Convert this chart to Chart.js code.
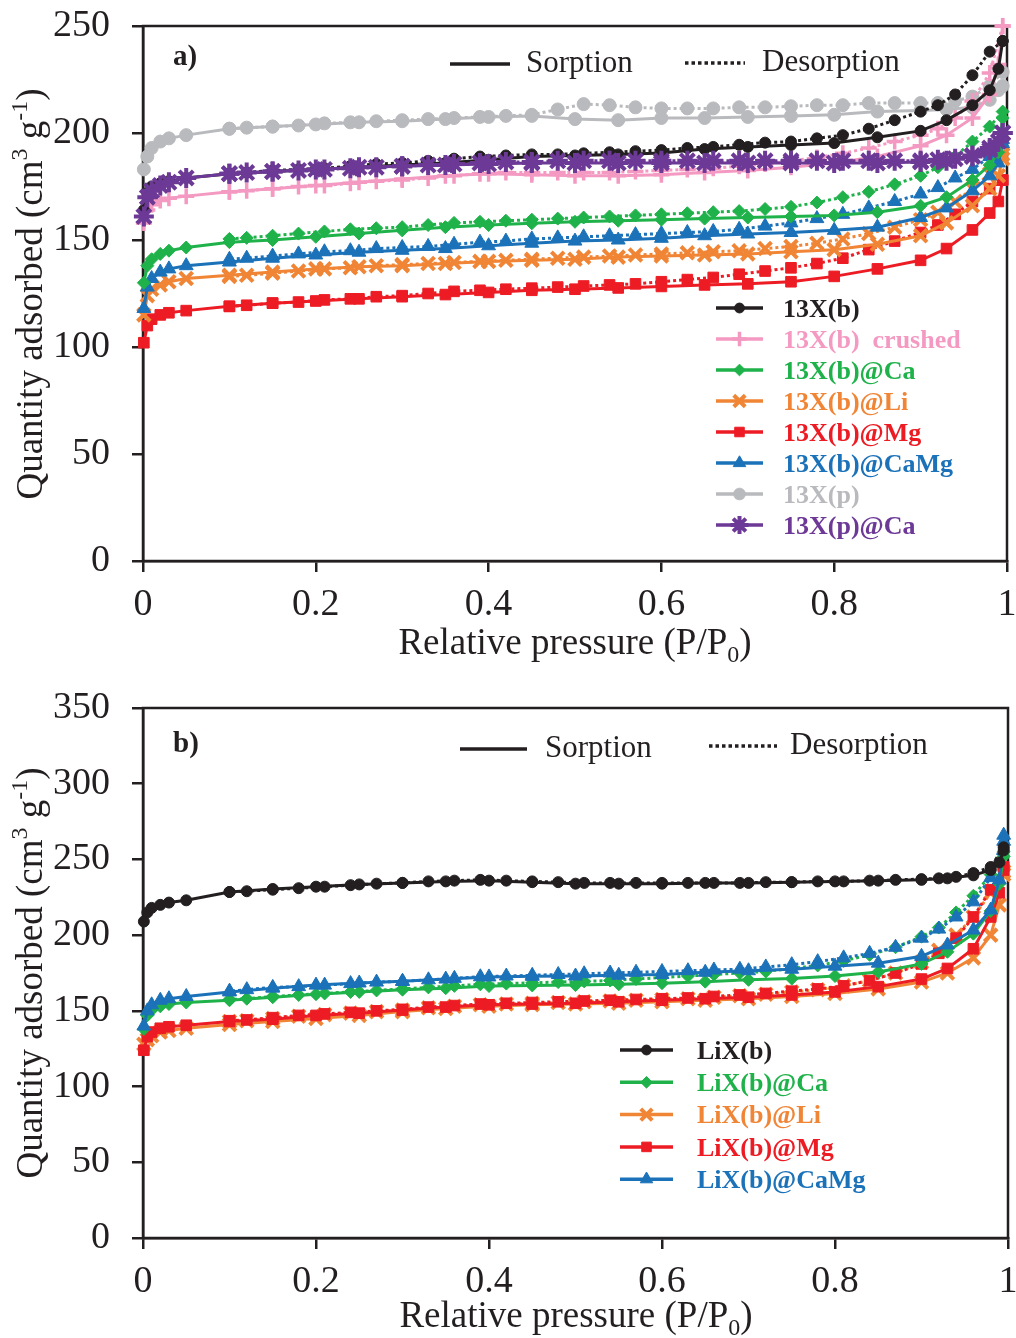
<!DOCTYPE html>
<html>
<head>
<meta charset="utf-8">
<script src="https://cdn.jsdelivr.net/npm/chart.js@4.4.1/dist/chart.umd.min.js"></script>
<style>
  body { margin: 0; background: #fff; }
  canvas { position: absolute; left: 0; }
</style>
</head>
<body>
<canvas id="chart-a" width="1016" height="669" style="top:0"></canvas>
<canvas id="chart-b" width="1016" height="669" style="top:669px"></canvas>
<script>
// relative pressure (P/P0) of the sorption and desorption branches
const sorpP = [0.001, 0.005, 0.01, 0.02, 0.03, 0.05, 0.1, 0.15, 0.2, 0.25, 0.3, 0.35, 0.4, 0.45, 0.5,
  0.55, 0.6, 0.65, 0.7, 0.75, 0.8, 0.85, 0.9, 0.93, 0.96, 0.98, 0.99, 0.995];
const desorpP = [0.995, 0.98, 0.96, 0.94, 0.92, 0.9, 0.87, 0.84, 0.81, 0.78, 0.75, 0.72, 0.69, 0.66, 0.63,
  0.6, 0.57, 0.54, 0.51, 0.48, 0.45, 0.42, 0.39, 0.36, 0.33, 0.3, 0.27, 0.24, 0.21, 0.18, 0.15, 0.12, 0.1];

const xTicks = [0, 0.2, 0.4, 0.6, 0.8, 1];
const xTickLabels = ['0', '0.2', '0.4', '0.6', '0.8', '1'];
const yTicksA = [0, 50, 100, 150, 200, 250];
const yTicksB = [0, 50, 100, 150, 200, 250, 300, 350];

// a) 13X samples, quantity adsorbed (cm3/g)
const sorp13Xb = [164, 172, 175, 176.5, 177.5, 179, 181, 182, 183, 184, 185, 186, 187.5, 189, 189.5,
  190, 190.6, 192.5, 193.5, 194.4, 195.3, 198, 201, 206, 213, 220, 230, 243];
const desorp13Xb = [243, 238, 227, 218, 213, 210, 206, 202, 199, 197.5, 196, 195.5, 194.5, 193.5, 193,
  192, 191.5, 191, 190.5, 190, 190, 189.5, 189, 188, 187, 186, 185.5, 184.5, 183.5, 183, 182.5, 181.5, 181];
const sorp13XbCrushed = [158, 164, 166.5, 168.5, 169.5, 170.5, 172.5, 174, 175.5, 177, 178.5, 180, 181, 180.5, 180,
  180, 180.5, 181.5, 182.5, 184, 186, 189, 194, 199, 207, 218, 232, 250];
const desorp13XbCrushed = [250, 228, 215, 207, 202, 199, 196, 193, 190.5, 188.5, 187, 185.5, 184.5, 183.5, 183,
  182.5, 182, 181.5, 181.5, 181.5, 181.5, 181.5, 181, 180, 179, 178, 177.5, 176.5, 175.5, 175, 174, 173, 172.5];
const sorp13XbCa = [130, 138, 141, 143.5, 145, 146.5, 149, 150, 151.5, 153, 154.5, 156, 157, 157.8, 158.5,
  159, 159.5, 160, 160.5, 161, 161.5, 163, 166, 170, 178, 185, 191, 207];
const desorp13XbCa = [210, 203, 196, 189, 184, 180, 176, 172.5, 170, 167.5, 165.5, 164.5, 163.5, 163, 162.5,
  162, 161.5, 161, 160.5, 160, 159.5, 159, 158.5, 158, 157, 156, 155.5, 155, 154, 153, 152, 151, 150.5];
const sorp13XbLi = [115, 124, 127, 129, 130.5, 132, 133.5, 135, 136.5, 137.5, 138, 139, 140, 140.5, 141,
  142, 142.5, 143, 143.5, 144.5, 145.5, 148, 152, 158, 166, 174, 180, 188];
const desorp13XbLi = [190, 181, 174, 168, 163, 159.5, 156, 153, 150.5, 148.5, 147, 146, 145, 144.5, 144,
  143.5, 143, 142.5, 142, 141.5, 141, 140.5, 140, 139.5, 139, 138.5, 138, 137, 136.5, 135.5, 134.5, 133.5, 133];
const sorp13XbMg = [102, 110, 113, 115, 116, 117, 119, 120.5, 121.5, 122.5, 123.5, 124.5, 125.5, 126.5, 127,
  127.6, 128.3, 129, 129.5, 130.5, 133, 136.5, 140.5, 146, 154.7, 162.6, 168, 178];
const desorp13XbMg = [178, 174, 168, 162, 157, 153.5, 149.5, 145.5, 141.5, 139, 137, 135.5, 134, 132.5, 131.5,
  130.5, 129.5, 129, 128.5, 128, 127.5, 127, 126.5, 126, 125, 124, 123.5, 122.5, 122, 121, 120.5, 119.5, 119];
const sorp13XbCaMg = [118, 128, 132, 135, 136.5, 138, 139.7, 141.5, 143, 144.3, 145.2, 146, 147.3, 148.5, 149.5,
  150, 150.8, 152, 152.8, 153.5, 154.5, 156, 160.5, 165, 173, 180, 186, 195];
const desorp13XbCaMg = [197, 189, 183, 179, 174.5, 171.5, 168, 165, 162, 160, 158, 156.5, 155, 154, 153.5,
  153, 152.5, 152, 151.5, 151, 150.5, 149.5, 149, 148, 147, 146.5, 146, 145, 144.5, 143.5, 142.5, 141.5, 141];
const sorp13Xp = [183, 189, 193, 196, 197.5, 199, 202, 203, 204, 205, 205.5, 206.5, 207.5, 208, 206.5,
  206, 207, 207, 207.5, 208, 208.5, 210, 210.5, 211, 212, 215.5, 220, 222];
const desorp13Xp = [228.5, 222, 217, 215, 214, 214, 214, 214, 213, 213, 212.5, 212, 212, 211.5, 211.5,
  211.5, 212, 213, 213.5, 211, 208.5, 208, 207.5, 207, 206.5, 206, 205.5, 205, 204.5, 203.5, 203, 202.5, 202];
const sorp13XpCa = [161, 170, 173, 175.5, 177, 179, 181, 182, 183, 184, 184.5, 185, 185.5, 186, 186,
  186, 186, 186, 186, 186, 186, 186, 186.5, 187, 189, 192, 196, 200];
const desorp13XpCa = [200, 193, 189.5, 188, 187.5, 187, 187, 187, 187, 187, 187, 187, 187, 187, 187,
  187, 187, 187, 187, 187, 186.5, 186.5, 186, 185.5, 185, 184.5, 184, 183.5, 183, 182.5, 182, 181.5, 181];

// b) LiX samples
const sorpLiXb = [209, 215, 218, 220, 221.5, 223, 228.5, 230.5, 232, 233.5, 234.5, 235.5, 236, 235, 234,
  234, 234, 234.5, 234.5, 235, 235.5, 236, 236.5, 237.5, 239.5, 243, 248, 256];
const desorpLiXb = [258, 245, 241, 238.5, 237.5, 237, 236.5, 236, 235.5, 235.5, 235, 235, 234.5, 234.5, 234.5,
  234.5, 234.5, 234.5, 234.5, 235, 235.5, 236, 236.5, 236, 235.5, 234.5, 234, 233, 232, 231, 230, 229, 228.5];
const sorpLiXbCa = [138, 147, 150.5, 153, 154.5, 155.5, 157, 159, 161, 162.5, 164, 165, 166.4, 166.8, 167,
  167.5, 168.3, 169.3, 170.5, 171.3, 173, 175.7, 181, 189, 201, 216, 234, 252];
const desorpLiXbCa = [255, 240, 226, 215, 205, 199, 192, 187, 183, 180, 178, 176, 175, 174, 173,
  172, 171, 170, 169.5, 169, 168.5, 168, 167.5, 166.5, 165.5, 164.5, 163.5, 162.5, 161.5, 160.5, 159.5, 158, 157.5];
const sorpLiXbLi = [128, 131, 133.5, 136, 137, 138.5, 141, 143, 145, 147, 149.5, 151.5, 153, 154, 154.5,
  155, 156, 157, 158, 159.5, 161.5, 164.5, 169, 175, 185, 200, 220, 240];
const desorpLiXbLi = [242, 228, 212, 200, 190, 182, 175, 170, 166.5, 164, 162.5, 161, 160, 159, 158,
  157.5, 157, 156.5, 156, 155.5, 155, 154.5, 154, 153, 152, 150.5, 149.5, 148.5, 147.5, 146.5, 145, 143.5, 143];
const sorpLiXbMg = [124, 133, 136, 138.5, 139.5, 140.5, 143, 144.5, 147, 148.5, 150.5, 152.5, 154, 154.5, 155,
  156, 157, 158, 159, 160.5, 162.5, 166, 171, 178, 191, 212, 228, 243];
const desorpLiXbMg = [245, 230, 212, 198, 188, 181, 175, 170, 166.5, 164.5, 163, 161.5, 160.5, 159.5, 158.5,
  158, 157.5, 157, 156.5, 156, 155.5, 155, 154.5, 153.5, 152.5, 151, 150, 149, 148, 147, 145.5, 144, 143.5];
const sorpLiXbCaMg = [140, 150, 154, 157, 158, 159.5, 162.5, 165, 167, 168.4, 169.5, 171, 172.4, 172.8, 173,
  173.5, 174, 175.5, 176.5, 177.5, 179.5, 181.5, 186, 193.5, 203.4, 216.6, 236.5, 262];
const desorpLiXbCaMg = [266, 238, 222, 212, 204, 198, 192, 188, 185, 182.5, 180.5, 179, 177.5, 177, 176.5,
  176, 175.5, 175, 174.5, 174, 173.5, 173, 172.5, 171.5, 170.5, 169.5, 169, 168, 167, 166, 165.5, 164, 163];

const INK = '#231f20';
const SERIF = '"Liberation Serif", "Times New Roman", serif';

const looks = {
  black:  { color: '#231f20', pointStyle: 'circle',   radius: 5.5, pointBorder: 1 },
  pink:   { color: '#f49ac2', pointStyle: 'cross',    radius: 8, pointBorder: 3.5 },
  green:  { color: '#1fb24a', pointStyle: 'rectRot',  radius: 6.5, pointBorder: 1 },
  orange: { color: '#f08536', pointStyle: 'crossRot', radius: 9, pointBorder: 4 },
  red:    { color: '#ed1c24', pointStyle: 'rect',     radius: 7.5, pointBorder: 1 },
  blue:   { color: '#1b72b9', pointStyle: 'triangle', radius: 8, pointBorder: 1 },
  gray:   { color: '#b9babd', pointStyle: 'circle',   radius: 6.5, pointBorder: 1 },
  purple: { color: '#6d3996', pointStyle: 'star',     radius: 10, pointBorder: 4 }
};

// legend order; z = drawing order (lower is on top)
const seriesA = [
  { label: '13X(b)', look: 'black', z: 2, sorp: sorp13Xb, desorp: desorp13Xb },
  { label: '13X(b)  crushed', look: 'pink', z: 3, sorp: sorp13XbCrushed, desorp: desorp13XbCrushed },
  { label: '13X(b)@Ca', look: 'green', z: 5, sorp: sorp13XbCa, desorp: desorp13XbCa },
  { label: '13X(b)@Li', look: 'orange', z: 7, sorp: sorp13XbLi, desorp: desorp13XbLi },
  { label: '13X(b)@Mg', look: 'red', z: 8, sorp: sorp13XbMg, desorp: desorp13XbMg },
  { label: '13X(b)@CaMg', look: 'blue', z: 6, sorp: sorp13XbCaMg, desorp: desorp13XbCaMg },
  { label: '13X(p)', look: 'gray', z: 4, sorp: sorp13Xp, desorp: desorp13Xp },
  { label: '13X(p)@Ca', look: 'purple', z: 1, sorp: sorp13XpCa, desorp: desorp13XpCa }
];
const seriesB = [
  { label: 'LiX(b)', look: 'black', z: 1, sorp: sorpLiXb, desorp: desorpLiXb },
  { label: 'LiX(b)@Ca', look: 'green', z: 3, sorp: sorpLiXbCa, desorp: desorpLiXbCa },
  { label: 'LiX(b)@Li', look: 'orange', z: 5, sorp: sorpLiXbLi, desorp: desorpLiXbLi },
  { label: 'LiX(b)@Mg', look: 'red', z: 4, sorp: sorpLiXbMg, desorp: desorpLiXbMg },
  { label: 'LiX(b)@CaMg', look: 'blue', z: 2, sorp: sorpLiXbCaMg, desorp: desorpLiXbCaMg }
];

function branch(xs, ys, lk, dash, z) {
  return {
    data: xs.map((x, i) => ({ x: x, y: ys[i] })),
    borderColor: lk.color,
    backgroundColor: lk.color,
    borderWidth: 3,
    borderDash: dash,
    pointStyle: lk.pointStyle,
    pointRadius: lk.radius,
    pointBorderWidth: lk.pointBorder,
    pointBackgroundColor: lk.color,
    pointBorderColor: lk.color,
    tension: 0,
    fill: false,
    clip: false,
    order: z
  };
}

function datasetsFor(series) {
  const out = [];
  series.forEach(s => {
    const lk = looks[s.look];
    out.push(branch(sorpP, s.sorp, lk, [], s.z));
    out.push(branch(desorpP, s.desorp, lk, [3, 3], s.z + 0.5));
  });
  return out;
}

function drawRuns(ctx, runs, cx, baseY) {
  let w = 0;
  runs.forEach(r => { ctx.font = r.font; r.w = ctx.measureText(r.t).width; w += r.w; });
  let x = cx - w / 2;
  runs.forEach(r => {
    ctx.font = r.font;
    ctx.fillText(r.t, x, baseY + (r.dy || 0));
    x += r.w;
  });
}

const big = '37px ' + SERIF;
const small = '24px ' + SERIF;
const yTitleRuns = [
  { t: 'Quantity adsorbed (cm', font: big }, { t: '3', font: small, dy: -15 },
  { t: ' g', font: big }, { t: '-1', font: small, dy: -15 }, { t: ')', font: big }
];
const xTitleRuns = [
  { t: 'Relative pressure (P/P', font: big }, { t: '0', font: small, dy: 8 }, { t: ')', font: big }
];

const panelDecor = {
  id: 'panelDecor',
  beforeDatasetsDraw(chart) {
    const a = chart.chartArea;
    const ctx = chart.ctx;
    ctx.save();
    ctx.strokeStyle = INK;
    ctx.lineWidth = 2.5;
    ctx.strokeRect(a.left, a.top, a.right - a.left, a.bottom - a.top);
    ctx.restore();
  },
  afterDraw(chart, args, o) {
    const ctx = chart.ctx;
    ctx.save();
    ctx.fillStyle = INK;
    ctx.textAlign = 'left';
    ctx.textBaseline = 'alphabetic';

    // axis titles
    drawRuns(ctx, xTitleRuns, o.xTitleX, o.xTitleY);
    ctx.save();
    ctx.translate(o.yTitleX, o.yTitleY);
    ctx.rotate(-Math.PI / 2);
    drawRuns(ctx, yTitleRuns, 0, 0);
    ctx.restore();

    // panel tag
    ctx.textBaseline = 'middle';
    ctx.font = 'bold 29px ' + SERIF;
    ctx.fillText(o.tag, 173, o.tagY);

    // sorption / desorption key
    const k = o.key;
    ctx.strokeStyle = INK;
    ctx.lineWidth = 3.5;
    ctx.beginPath(); ctx.moveTo(k.s1, k.sy); ctx.lineTo(k.s2, k.sy); ctx.stroke();
    ctx.setLineDash([3.5, 3]);
    ctx.beginPath(); ctx.moveTo(k.d1, k.dy); ctx.lineTo(k.d2, k.dy); ctx.stroke();
    ctx.setLineDash([]);
    ctx.font = '31px ' + SERIF;
    ctx.fillText('Sorption', k.st, k.sy);
    ctx.fillText('Desorption', k.dt, k.dy);

    // sample legend
    const L = o.legend;
    o.series.forEach((s, i) => {
      const lk = looks[s.look];
      const y = L.y0 + i * L.dy;
      ctx.strokeStyle = lk.color;
      ctx.fillStyle = lk.color;
      ctx.lineWidth = 3.5;
      ctx.beginPath(); ctx.moveTo(L.x1, y - 2); ctx.lineTo(L.x2, y - 2); ctx.stroke();
      ctx.lineWidth = lk.pointBorder;
      Chart.helpers.drawPoint(ctx, {
        pointStyle: lk.pointStyle, radius: lk.radius * 0.9, rotation: 0, borderWidth: lk.pointBorder
      }, (L.x1 + L.x2) / 2, y - 2);
      ctx.font = 'bold 26px ' + SERIF;
      ctx.fillText(s.label, L.tx, y);
    });
    ctx.restore();
  }
};

function makeChart(id, p) {
  const tickFont = { family: SERIF, size: 38 };
  const gridOpts = { drawOnChartArea: false, drawTicks: true, tickLength: 11, color: INK, lineWidth: 2.5 };
  return new Chart(document.getElementById(id), {
    type: 'line',
    data: { datasets: datasetsFor(p.series) },
    options: {
      responsive: false,
      animation: false,
      devicePixelRatio: 1,
      events: [],
      layout: { autoPadding: false, padding: { top: p.padTop, right: p.padRight, left: 0, bottom: 0 } },
      plugins: {
        legend: { display: false },
        tooltip: { enabled: false },
        panelDecor: p.decor
      },
      scales: {
        x: {
          type: 'linear',
          min: 0,
          max: 1,
          afterBuildTicks: s => { s.ticks = xTicks.map(v => ({ value: v })); },
          afterFit: s => {
            s.height = p.xHeight;
            s.paddingLeft = 0; s.paddingRight = 0;
          },
          ticks: {
            callback: (v, i) => xTickLabels[i],
            font: tickFont, color: INK, padding: 10, maxRotation: 0, autoSkip: false
          },
          grid: gridOpts,
          border: { color: INK, width: 2.5 }
        },
        y: {
          min: 0,
          max: p.yTicks[p.yTicks.length - 1],
          afterBuildTicks: s => { s.ticks = p.yTicks.map(v => ({ value: v })); },
          afterFit: s => {
            s.width = 143;
            s.paddingTop = 0; s.paddingBottom = 0;
          },
          ticks: { font: tickFont, color: INK, padding: 22 },
          grid: gridOpts,
          border: { color: INK, width: 2.5 }
        }
      }
    },
    plugins: [panelDecor]
  });
}

makeChart('chart-a', {
  series: seriesA, yTicks: yTicksA, padTop: 26, padRight: 9, xHeight: 108,
  decor: {
    tag: 'a)', tagY: 58, series: seriesA,
    xTitleX: 575, xTitleY: 654, yTitleX: 42, yTitleY: 294,
    key: { s1: 450, s2: 510, sy: 64, st: 526, d1: 685, d2: 745, dy: 63, dt: 762 },
    legend: { x1: 716, x2: 763, tx: 783, y0: 310, dy: 31 }
  }
});

makeChart('chart-b', {
  series: seriesB, yTicks: yTicksB, padTop: 39, padRight: 8, xHeight: 100,
  decor: {
    tag: 'b)', tagY: 76, series: seriesB,
    xTitleX: 576, xTitleY: 658, yTitleX: 42, yTitleY: 304,
    key: { s1: 460, s2: 527, sy: 80, st: 545, d1: 709, d2: 777, dy: 77, dt: 790 },
    legend: { x1: 620, x2: 673, tx: 697, y0: 383, dy: 32.3 }
  }
});
</script>
</body>
</html>
